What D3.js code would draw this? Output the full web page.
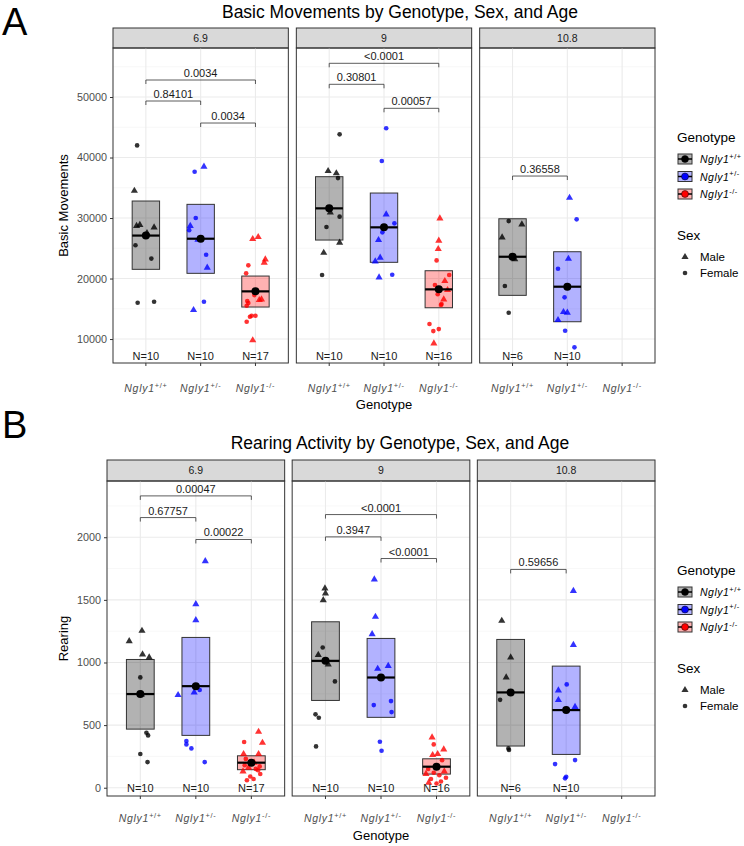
<!DOCTYPE html>
<html>
<head>
<meta charset="utf-8">
<script src="https://cdn.jsdelivr.net/npm/d3@7"></script>
<style>
body { margin: 0; background: #fff; }
text { font-family: "Liberation Sans", Arial, sans-serif; }
</style>
</head>
<body>
<svg id="chart" width="744" height="846"></svg>
<script>
// categories
var ages = ["6.9", "9", "10.8"];
var genotypes = ["+/+", "+/-", "-/-"];
var genoColors = ["#000000", "#0000ff", "#ff0000"];

// Basic movements: values, sex (M/F) and jitter (category units) per age, per genotype
var bmVal69 = [
    [42000, 34500, 28700, 28850, 28460, 25500, 23300, 16000, 16170, 27500],
    [37650, 38500, 30000, 28700, 28000, 26400, 23930, 21790, 16170, 14800],
    [26530, 26860, 23170, 22610, 22180, 20860, 16280, 15950, 15500, 16450, 16560, 17270, 13850, 13850, 13690, 12860, 9800]
];
var bmSex69 = ["FMMMMFFFFM", "FMFMFMFMFM", "MMMMFFFFFMMFFFFFM"];
var bmJit69 = [
    [-0.16, -0.21, -0.17, -0.11, 0.15, -0.19, 0.10, -0.15, 0.15, 0.02],
    [-0.11, 0.06, -0.09, -0.19, -0.21, -0.05, 0.10, 0.12, 0.06, -0.13],
    [-0.05, 0.05, 0.18, 0.16, -0.13, -0.17, -0.15, -0.13, -0.16, 0.07, 0.11, -0.02, -0.07, 0.0, -0.10, -0.16, -0.05]
];
var bmVal9 = [
    [43830, 37770, 37390, 36600, 30930, 30220, 28510, 25920, 24260, 20580],
    [44830, 39420, 30600, 29120, 27640, 26360, 23440, 22840, 20200, 20630],
    [29950, 26250, 24880, 23000, 20580, 18930, 19590, 18100, 16560, 15620, 15790, 12480, 11650, 11320, 9290, 17400]
];
var bmSex9 = ["FMMFMFFMMF", "FFMFFMMMMF", "MMMFFFMMMFFFFFMF"];
var bmJit9 = [
    [0.19, -0.02, 0.13, 0.16, 0.02, 0.19, -0.05, 0.19, -0.10, -0.13],
    [0.04, -0.04, 0.04, 0.19, -0.03, -0.10, -0.07, -0.16, -0.09, 0.15],
    [0.02, 0.0, -0.01, -0.04, 0.19, -0.07, 0.11, 0.16, 0.09, 0.04, 0.05, -0.17, 0.0, -0.10, -0.09, -0.02]
];
var bmVal108 = [
    [29500, 28950, 26810, 18760, 14350, 23200],
    [33350, 29780, 23270, 21620, 16890, 14460, 14350, 13140, 11370, 8630],
    []
];
var bmSex108 = ["FMMFFM", "MFMFFMMMFF", ""];
var bmJit108 = [
    [-0.07, 0.17, -0.19, -0.14, -0.07, 0.04],
    [0.04, 0.17, 0.02, -0.17, -0.05, -0.07, 0.0, -0.17, -0.04, 0.13],
    []
];
// crossbar: mean and mean +/- sd
var bmMean = [[27100, 26580, 17880], [31600, 28460, 18210], [23600, 18650, null]];
var bmLo = [[21520, 20860, 15290], [26360, 22680, 15170], [17220, 12860, null]];
var bmHi = [[32810, 32260, 20410], [36830, 34130, 21290], [29880, 24430, null]];
// brackets: from, to, height, p label
var bmSig = [
    [[0, 2, 52810, "0.0034"], [0, 1, 49340, "0.84101"], [1, 2, 45700, "0.0034"]],
    [[0, 2, 55570, "<0.0001"], [0, 1, 52100, "0.30801"], [1, 2, 48130, "0.00057"]],
    [[0, 1, 36940, "0.36558"]]
];

// Rearing
var rVal69 = [
    [1171, 1253, 1064, 1040, 881, 439, 418, 269, 205, 745],
    [1466, 1338, 1809, 740, 761, 780, 373, 346, 314, 205],
    [447, 365, 359, 269, 269, 230, 200, 180, 170, 160, 150, 140, 130, 110, 90, 70, 60]
];
var rSex69 = ["MMMMFFFFFM", "MMMMMFFFFF", "MFMMMFMFFMFFMFFFF"];
var rJit69 = [
    [-0.20, 0.03, 0.04, 0.16, 0.0, 0.11, 0.14, 0.0, 0.13, 0.02],
    [0.0, 0.0, 0.17, -0.32, -0.03, 0.07, -0.17, -0.17, -0.08, 0.16],
    [0.13, -0.13, 0.20, -0.14, 0.13, -0.10, 0.05, -0.12, 0.15, -0.05, 0.08, 0.12, -0.15, 0.16, -0.02, 0.04, -0.08]
];
var rVal9 = [
    [1591, 1551, 1498, 1120, 1061, 849, 586, 559, 330, 985],
    [1663, 1365, 1226, 950, 973, 660, 692, 604, 367, 295],
    [402, 346, 306, 269, 261, 220, 150, 130, 120, 110, 100, 80, 70, 50, 40, 34]
];
var rSex9 = ["MMMFMFFFFM", "MMMMMFFFFF", "MFMMMFFMFMFFFFMF"];
var rJit9 = [
    [-0.01, 0.0, -0.04, -0.05, -0.13, 0.17, -0.18, -0.12, -0.17, 0.05],
    [-0.12, -0.10, -0.16, -0.06, 0.13, -0.13, 0.18, 0.19, -0.02, 0.01],
    [-0.08, -0.05, 0.13, 0.02, -0.07, 0.10, -0.15, 0.14, -0.05, -0.19, 0.05, 0.17, -0.10, 0.08, -0.14, 0.0]
];
var rVal108 = [
    [1333, 1040, 881, 702, 314, 301],
    [1572, 1140, 825, 777, 700, 646, 189, 221, 88, 75],
    []
];
var rSex108 = ["MMMFFF", "MMFMMMFFFF", ""];
var rJit108 = [
    [-0.16, 0.0, -0.08, -0.19, -0.04, -0.03],
    [0.13, 0.13, 0.01, -0.14, -0.14, 0.16, -0.20, 0.16, 0.0, -0.02],
    []
];
var rMean = [[748, 811, 200], [1013, 880, 168], [761, 620, null]];
var rLo = [[468, 418, 144], [697, 562, 109], [333, 266, null]];
var rHi = [[1024, 1200, 255], [1325, 1192, 231], [1184, 971, null]];
var rSig = [
    [[0, 2, 2330, "0.00047"], [0, 1, 2157, "0.67757"], [1, 2, 1982, "0.00022"]],
    [[0, 2, 2181, "<0.0001"], [0, 1, 2003, "0.3947"], [1, 2, 1830, "<0.0001"]],
    [[0, 1, 1743, "0.59656"]]
];

var svg = d3.select("#chart");
var triSym = d3.symbol(d3.symbolTriangle, 22)();
var dotSym = d3.symbol(d3.symbolCircle, 17)();

function nglyLabel(sel, sup, size) {
    sel.append("tspan").style("font-style", "italic").text("Ngly1");
    sel.append("tspan").attr("dy", -size * 0.4).style("font-size", (size * 0.7) + "px").text(sup);
}

function drawChart(cfg) {
    var g = svg.append("g");
    var panelW = (cfg.right - cfg.left - 2 * cfg.gap) / 3;

    g.append("text").attr("x", 2).attr("y", cfg.letterY)
        .style("font-size", "38px").text(cfg.letter);
    g.append("text").attr("x", 400).attr("y", cfg.titleY)
        .attr("text-anchor", "middle").style("font-size", "17.5px").text(cfg.title);

    var y = d3.scaleLinear().domain(cfg.yDomain).range([cfg.panelBottom, cfg.panelTop]);
    var major = y.ticks(5);
    var step = major[1] - major[0];
    var minor = [];
    for (var i = 0; i <= major.length; i++) {
        var m = (i < major.length ? major[i] : major[i - 1] + step) - step / 2;
        if (m > cfg.yDomain[0] && m < cfg.yDomain[1]) minor.push(m);
    }

    ages.forEach(function(age, p) {
        var x0 = cfg.left + p * (panelW + cfg.gap);
        var x = d3.scalePoint().domain([0, 1, 2]).range([x0, x0 + panelW]).padding(0.6);
        var unit = x.step();
        var pg = g.append("g");

        // strip
        pg.append("rect").attr("x", x0).attr("y", cfg.stripTop)
            .attr("width", panelW).attr("height", cfg.panelTop - cfg.stripTop)
            .attr("fill", "#d9d9d9").attr("stroke", "#333").attr("stroke-width", 1);
        pg.append("text").attr("x", x0 + panelW / 2).attr("y", (cfg.stripTop + cfg.panelTop) / 2 + 3.5)
            .attr("text-anchor", "middle").style("font-size", "10.5px").attr("fill", "#1a1a1a").text(age);

        // grid
        pg.selectAll(".minor").data(minor).enter().append("line")
            .attr("x1", x0).attr("x2", x0 + panelW)
            .attr("y1", function(d) { return y(d); }).attr("y2", function(d) { return y(d); })
            .attr("stroke", "#f2f2f2").attr("stroke-width", 0.6);
        pg.selectAll(".major").data(major).enter().append("line")
            .attr("x1", x0).attr("x2", x0 + panelW)
            .attr("y1", function(d) { return y(d); }).attr("y2", function(d) { return y(d); })
            .attr("stroke", "#ebebeb").attr("stroke-width", 1.1);
        pg.selectAll(".vgrid").data([0, 1, 2]).enter().append("line")
            .attr("x1", function(d) { return x(d); }).attr("x2", function(d) { return x(d); })
            .attr("y1", cfg.panelTop).attr("y2", cfg.panelBottom)
            .attr("stroke", "#ebebeb").attr("stroke-width", 1.1);

        var vals = cfg.vals[p], sexes = cfg.sexes[p], jits = cfg.jits[p];

        genotypes.forEach(function(gt, k) {
            if (cfg.mean[p][k] == null) return;
            var cx = x(k);
            pg.append("rect")
                .attr("x", cx - unit * 0.25).attr("width", unit * 0.5)
                .attr("y", y(cfg.hi[p][k])).attr("height", y(cfg.lo[p][k]) - y(cfg.hi[p][k]))
                .attr("fill", genoColors[k]).attr("fill-opacity", 0.3)
                .attr("stroke", "#333").attr("stroke-width", 1);

            var pts = vals[k].map(function(v, i) {
                return {v: v, s: sexes[k][i], j: jits[k][i]};
            });
            pg.selectAll(".pt" + k).data(pts).enter().append("path")
                .attr("d", function(d) { return d.s == "M" ? triSym : dotSym; })
                .attr("transform", function(d) {
                    return "translate(" + (cx + d.j * unit) + "," + y(d.v) + ")";
                })
                .attr("fill", genoColors[k]).attr("fill-opacity", 0.8);

            pg.append("line")
                .attr("x1", cx - unit * 0.25).attr("x2", cx + unit * 0.25)
                .attr("y1", y(cfg.mean[p][k])).attr("y2", y(cfg.mean[p][k]))
                .attr("stroke", "#000").attr("stroke-width", 2.2);
            pg.append("circle").attr("cx", cx).attr("cy", y(cfg.mean[p][k]))
                .attr("r", 4).attr("fill", "#000");
        });

        // N labels
        genotypes.forEach(function(gt, k) {
            if (!vals[k].length) return;
            pg.append("text").attr("x", x(k)).attr("y", y(cfg.nValue)).attr("dy", "0.35em")
                .attr("text-anchor", "middle").style("font-size", "11px").attr("fill", "#1a1a1a")
                .text("N=" + vals[k].length);
        });

        // significance brackets
        cfg.sig[p].forEach(function(b) {
            var yy = y(b[2]);
            pg.append("path")
                .attr("d", "M" + x(b[0]) + "," + (yy + 4) + "V" + yy + "H" + x(b[1]) + "V" + (yy + 4))
                .attr("fill", "none").attr("stroke", "#333").attr("stroke-width", 0.8);
            pg.append("text").attr("x", (x(b[0]) + x(b[1])) / 2).attr("y", yy - 3)
                .attr("text-anchor", "middle").style("font-size", "11px").attr("fill", "#1a1a1a")
                .text(b[3]);
        });

        // panel border
        pg.append("rect").attr("x", x0).attr("y", cfg.panelTop)
            .attr("width", panelW).attr("height", cfg.panelBottom - cfg.panelTop)
            .attr("fill", "none").attr("stroke", "#333").attr("stroke-width", 1);

        // x axis
        var xa = pg.append("g");
        [0, 1, 2].forEach(function(k) {
            xa.append("line").attr("x1", x(k)).attr("x2", x(k))
                .attr("y1", cfg.panelBottom).attr("y2", cfg.panelBottom + 3)
                .attr("stroke", "#333");
            var t = xa.append("text").attr("x", x(k)).attr("y", cfg.xLabY)
                .attr("text-anchor", "middle").style("font-size", "10.5px").attr("fill", "#4d4d4d")
                .style("letter-spacing", "0.7px");
            nglyLabel(t, genotypes[k], 10.5);
        });
    });

    // y axis
    var ya = g.append("g").attr("transform", "translate(" + cfg.left + ",0)")
        .call(d3.axisLeft(y).tickValues(major).tickFormat(d3.format("d")).tickSize(3).tickPadding(3));
    ya.select(".domain").remove();
    ya.selectAll("line").attr("stroke", "#333");
    ya.selectAll("text").style("font-size", "10.8px").attr("fill", "#4d4d4d")
        .style("font-family", "'Liberation Sans', Arial, sans-serif");

    g.append("text")
        .attr("transform", "translate(" + 68 + "," + ((cfg.panelTop + cfg.panelBottom) / 2) + ") rotate(-90)")
        .attr("text-anchor", "middle").style("font-size", "13px").text(cfg.yLabel);
    g.append("text").attr("x", (cfg.left + cfg.right) / 2).attr("y", cfg.xTitleY)
        .attr("text-anchor", "middle").style("font-size", "13px").text("Genotype");

    // legend
    var lg = g.append("g");
    var ly = cfg.legendY;
    lg.append("text").attr("x", 677).attr("y", ly).style("font-size", "13.5px").text("Genotype");
    genotypes.forEach(function(gt, k) {
        var ky = ly + 17 + k * 17.5;
        lg.append("rect").attr("x", 678).attr("y", ky - 5).attr("width", 14).attr("height", 10)
            .attr("fill", genoColors[k]).attr("fill-opacity", 0.3).attr("stroke", "#333");
        lg.append("line").attr("x1", 678).attr("x2", 692).attr("y1", ky).attr("y2", ky)
            .attr("stroke", "#000").attr("stroke-width", 1.5);
        lg.append("circle").attr("cx", 685).attr("cy", ky).attr("r", 3.5)
            .attr("fill", genoColors[k]).attr("stroke", "#000").attr("stroke-width", 0.5);
        var t = lg.append("text").attr("x", 700).attr("y", ky + 4).style("font-size", "10.5px")
            .style("letter-spacing", "0.5px");
        nglyLabel(t, gt, 10.5);
    });
    lg.append("text").attr("x", 677).attr("y", ly + 98).style("font-size", "13.5px").text("Sex");
    ["Male", "Female"].forEach(function(s, k) {
        var ky = ly + 115 + k * 16;
        lg.append("path").attr("d", k == 0 ? triSym : dotSym)
            .attr("transform", "translate(685," + ky + ")").attr("fill", "#000").attr("fill-opacity", 0.8);
        lg.append("text").attr("x", 700).attr("y", ky + 4).style("font-size", "11.5px").text(s);
    });
}

drawChart({
    letter: "A", letterY: 35, title: "Basic Movements by Genotype, Sex, and Age", titleY: 18,
    yLabel: "Basic Movements",
    left: 113, right: 655, gap: 8, stripTop: 28, panelTop: 48, panelBottom: 363,
    yDomain: [6040, 58100], nValue: 7200, xLabY: 392, xTitleY: 409, legendY: 142,
    vals: [bmVal69, bmVal9, bmVal108], sexes: [bmSex69, bmSex9, bmSex108], jits: [bmJit69, bmJit9, bmJit108],
    mean: bmMean, lo: bmLo, hi: bmHi, sig: bmSig
});

drawChart({
    letter: "B", letterY: 438, title: "Rearing Activity by Genotype, Sex, and Age", titleY: 449,
    yLabel: "Rearing",
    left: 107, right: 655, gap: 7.5, stripTop: 460, panelTop: 481, panelBottom: 796,
    yDomain: [-66, 2449], nValue: 0, xLabY: 822, xTitleY: 840, legendY: 575,
    vals: [rVal69, rVal9, rVal108], sexes: [rSex69, rSex9, rSex108], jits: [rJit69, rJit9, rJit108],
    mean: rMean, lo: rLo, hi: rHi, sig: rSig
});
</script>
</body>
</html>
